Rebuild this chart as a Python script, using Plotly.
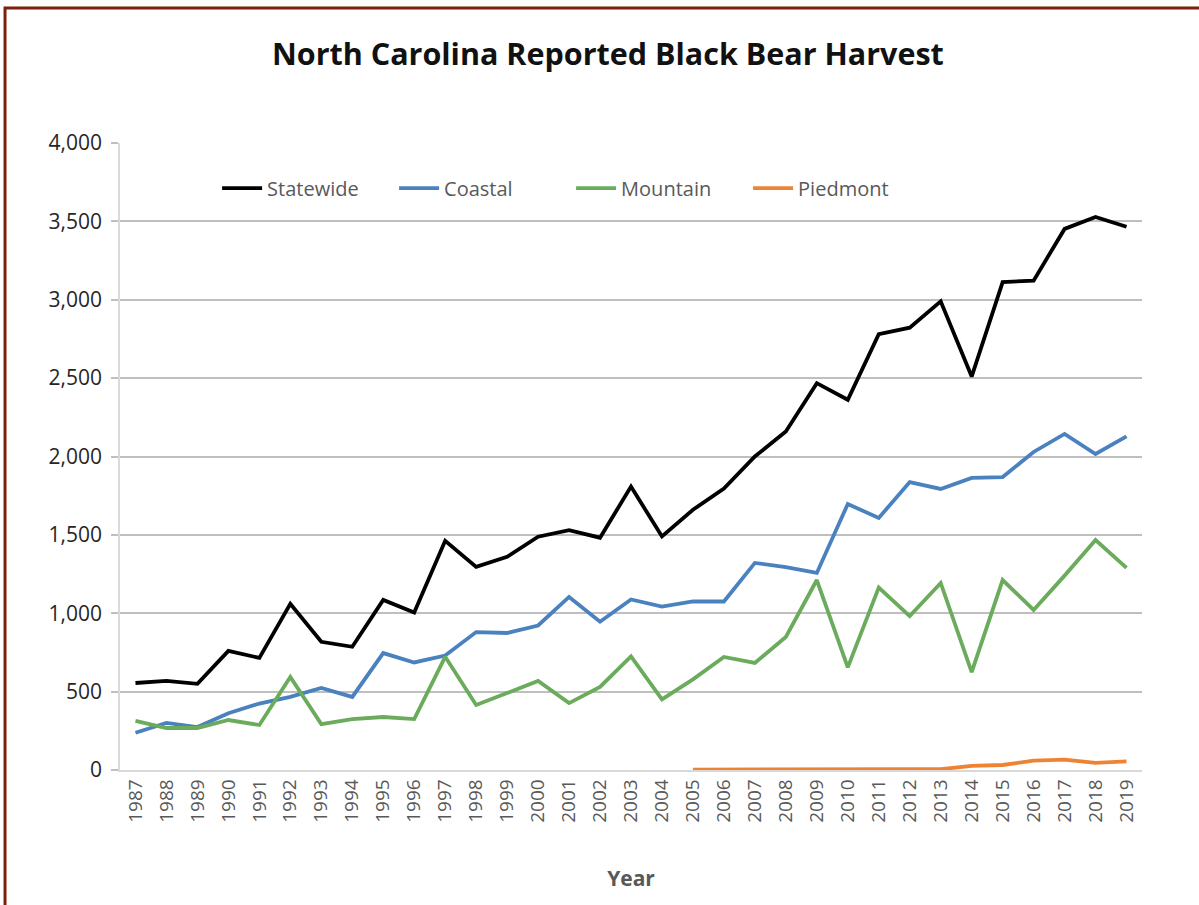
"""North Carolina reported black bear harvest, 1987-2019."""

import plotly.graph_objects as go

years = [str(y) for y in range(1987, 2020)]

statewide = [555, 568, 550, 760, 715, 1060, 818, 786, 1085, 1005, 1462, 1296,
             1360, 1488, 1530, 1482, 1808, 1490, 1660, 1796, 2000, 2160,
             2468, 2362, 2781, 2822, 2990, 2510, 3113, 3122, 3452, 3528, 3466]
coastal = [238, 300, 274, 362, 424, 466, 523, 466, 746, 686, 730, 880,
           874, 922, 1104, 946, 1088, 1043, 1075, 1075, 1321, 1295,
           1257, 1697, 1608, 1837, 1793, 1863, 1869, 2029, 2144, 2016, 2128]
mountain = [313, 268, 268, 319, 287, 593, 293, 325, 338, 325, 722, 415,
            491, 568, 427, 530, 724, 450, 578, 721, 683, 849,
            1212, 655, 1164, 982, 1193, 625, 1212, 1021, 1240, 1467, 1289]
piedmont = [None] * 18 + [3, 4, 4, 5, 4, 5, 4, 6, 5, 26, 32, 60, 66, 45, 55]

series = [
    ("Statewide", statewide, "#000000"),
    ("Coastal", coastal, "#4a81bf"),
    ("Mountain", mountain, "#6aab5c"),
    ("Piedmont", piedmont, "#ee8433"),
]

fig = go.Figure()
for name, vals, color in series:
    fig.add_trace(go.Scatter(
        x=years, y=vals, name=name, mode="lines",
        line=dict(color=color, width=3.8),
        hovertemplate="%{x}: %{y:,}<extra>" + name + "</extra>",
    ))

fig.update_layout(
    width=1199, height=905,
    paper_bgcolor="white", plot_bgcolor="white",
    font=dict(family="Open Sans, sans-serif", color="#595959"),
    title=dict(
        text="<b>North Carolina Reported Black Bear Harvest</b>",
        x=0.507, xanchor="center", y=0.94, yanchor="middle",
        font=dict(size=30.5, color="#111111"),
    ),
    margin=dict(l=120, r=57, t=143, b=135),
    showlegend=True,
    legend=dict(
        orientation="h", x=0.095, xanchor="left", y=0.928, yanchor="middle",
        bgcolor="rgba(0,0,0,0)", font=dict(size=20, color="#595959"),
        itemwidth=40, entrywidth=122, entrywidthmode="pixels",
    ),
    xaxis=dict(
        type="category", range=[-0.5, len(years) - 0.5],
        tickangle=-90, tickfont=dict(size=19, color="#595959"),
        showgrid=False, showline=True, linecolor="#d9d9d9", linewidth=1.5,
        ticks="", title=dict(text="<b>Year</b>", font=dict(size=21, color="#595959"),
                             standoff=49),
    ),
    yaxis=dict(
        range=[0, 4000], tickvals=list(range(0, 4001, 500)), tickformat=",",
        tickfont=dict(size=21, color="#262626"), ticklabelstandoff=5,
        showgrid=True, gridcolor="#bfbfbf", gridwidth=1.5,
        showline=True, linecolor="#d9d9d9", linewidth=1.5,
        ticks="outside", ticklen=7, tickcolor="#bfbfbf", tickwidth=1.5,
        zeroline=False,
    ),
    shapes=[dict(
        type="rect", xref="paper", yref="paper",
        x0=-0.1125, x1=1.2, y0=-0.4, y1=1.2153,
        line=dict(color="#7d1f0d", width=3), layer="below",
    )],
)

# the page's default 8px body margin would shift the whole chart
fig.write_html("out.html", config={"displayModeBar": False},
               post_script="document.body.style.margin = '0px';")
